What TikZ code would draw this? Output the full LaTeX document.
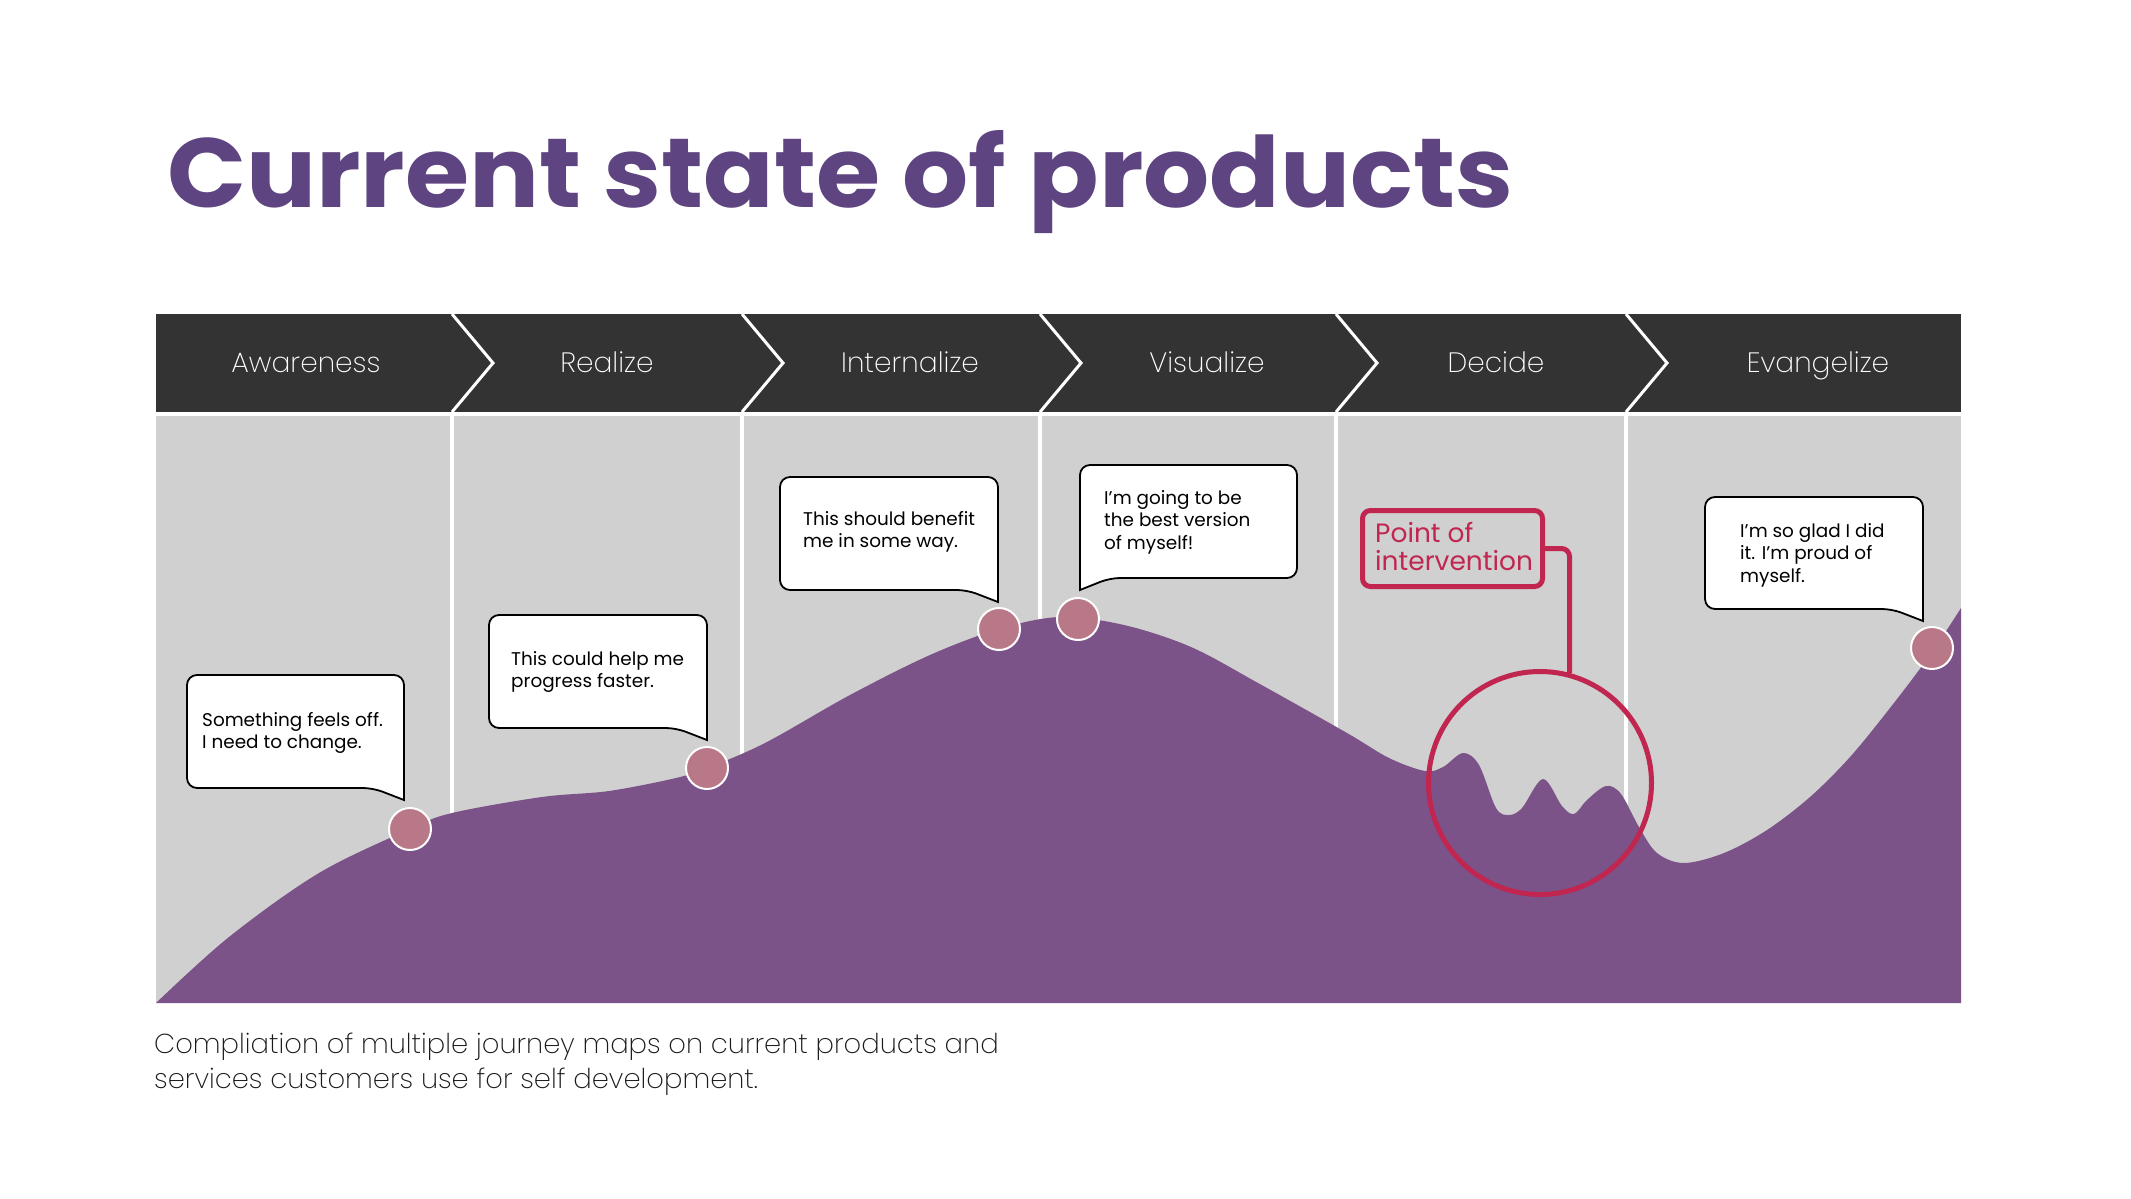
\documentclass[tikz,border=0pt]{standalone}
\usepackage{fontspec}
\usepackage{graphicx}
\setmainfont{Poppins}
\IfFontExistsTF{Poppins ExtraLight}{\newfontfamily\lightfont{Poppins ExtraLight}}{%
  \IfFontExistsTF{Poppins Light}{\newfontfamily\lightfont{Poppins Light}}{\newfontfamily\lightfont{Poppins}}}
\definecolor{hdr}{HTML}{333333}
\definecolor{panel}{HTML}{D0D0D0}
\definecolor{purp}{HTML}{7B5389}
\definecolor{titlec}{HTML}{5E4480}
\definecolor{dotc}{HTML}{B97888}
\definecolor{redc}{HTML}{C0264F}
\definecolor{capc}{HTML}{1A1A1A}
\tikzset{
  sepline/.style={white, line width=3pt},
  colline/.style={white, line width=4pt},
  bubble/.style={draw=black, fill=white, line width=1.8pt},
  bubtext/.style={anchor=base west, inner sep=0pt, font=\fontsize{18.4}{22.5}\selectfont},
  hlabel/.style={anchor=base, inner sep=0pt, text=white, font=\lightfont\fontsize{28}{30}\selectfont},
  jdot/.style={circle, minimum size=42pt, inner sep=0pt, fill=dotc, draw=white, line width=2pt},
}
\newcommand\bubR[4]{\draw[bubble] (#3,#4+12) [rounded corners=10pt] -- (#3,#2) -- (#1,#2) -- (#1,#4) -- (#3-31,#4) [sharp corners] -- cycle;}
\newcommand\bubL[4]{\draw[bubble] (#1,#4+12) [rounded corners=10pt] -- (#1,#2) -- (#3,#2) -- (#3,#4) -- (#1+30,#4) [sharp corners] -- cycle;}
\begin{document}
\begin{tikzpicture}[x=1pt, y=-1pt]
\useasboundingbox[fill=white] (0,0) rectangle (2131,1199);
% title
\node[anchor=base west, inner sep=0pt, text=titlec] (title) at (167,207)
  {\resizebox{1346pt}{77pt}{\bfseries Current state of products}};
% header band
\fill[hdr] (156,314) rectangle (1961,412);
\fill[panel] (156,416) rectangle (1961,1003);
\foreach \sx in {452,742,1040,1336,1626}{
  \draw[sepline] (\sx,314) -- (\sx+41,363) -- (\sx,412);
  \draw[colline] (\sx,412) -- (\sx,1003);
}
\node[hlabel] (h1) at (306,372) {Awareness};
\node[hlabel] (h2) at (607,372) {Realize};
\node[hlabel] (h3) at (910,372) {Internalize};
\node[hlabel] (h4) at (1207,372) {Visualize};
\node[hlabel] (h5) at (1496,372) {Decide};
\node[hlabel] (h6) at (1818,372) {Evangelize};
% journey curve
\fill[purp] plot[smooth, tension=0.55] coordinates {
 (156,1003) (229,937) (319,873) (410,829) (452,813) (542,797) (609,791)
 (676,778) (707,768) (765,743) (850,695) (930,655) (999,629) (1060,617)
 (1124,625) (1191,647) (1258,683) (1347,733) (1389,758) (1425,771)
 (1443,767) (1463,753) (1479,765) (1496,808) (1509,815) (1522,808)
 (1543,779) (1562,806) (1574,814) (1587,800) (1606,786) (1621,794)
 (1639,827) (1657,853) (1684,863) (1724,853) (1767,830) (1810,797)
 (1850,757) (1890,708) (1930,655) (1961,608)}
 -- (1961,1003) -- cycle;
% callouts
\bubR{187}{675}{404}{788}
\node[bubtext] (t1) at (202,726) {\begin{tabular}[t]{@{}l@{}}Something feels off.\\I need to change.\end{tabular}};
\bubR{489}{615}{707}{728}
\node[bubtext] (t2) at (511,665) {\begin{tabular}[t]{@{}l@{}}This could help me\\progress faster.\end{tabular}};
\bubR{780}{477}{998}{590}
\node[bubtext] (t3) at (803,525) {\begin{tabular}[t]{@{}l@{}}This should benefit\\me in some way.\end{tabular}};
\bubL{1080}{465}{1297}{578}
\node[bubtext] (t4) at (1104,504) {\begin{tabular}[t]{@{}l@{}}I’m going to be\\the best version\\of myself!\end{tabular}};
\bubR{1705}{497}{1923}{609}
\node[bubtext] (t6) at (1740,537) {\begin{tabular}[t]{@{}l@{}}I’m so glad I did\\it. I’m proud of\\myself.\end{tabular}};
% dots
\node[jdot] (d1) at (410,829) {};
\node[jdot] (d2) at (707,768) {};
\node[jdot] (d3) at (999,629) {};
\node[jdot] (d4) at (1078,619) {};
\node[jdot] (d5) at (1932,648) {};
% point of intervention
\node[circle, draw=redc, line width=5pt, minimum size=223pt, inner sep=0pt] (circ) at (1540,783) {};
\node[draw=redc, line width=5pt, rounded corners=8pt, minimum width=180pt, minimum height=76pt, inner sep=0pt] (poi) at (1452.5,548.5) {};
\node[anchor=base west, inner sep=0pt, text=redc, font=\fontsize{26.5}{27}\selectfont] (poitext) at (1375,542) {\begin{tabular}[t]{@{}l@{}}Point of\\intervention\end{tabular}};
\draw[redc, line width=5pt, rounded corners=8pt] (poi.east) -| (circ.75.3);
% caption
\node[anchor=base west, inner sep=0pt, text=capc, font=\lightfont\fontsize{27.4}{35}\selectfont] (cap) at (154,1053) {\begin{tabular}[t]{@{}l@{}}Compliation of multiple journey maps on current products and\\services customers use for self development.\end{tabular}};
\end{tikzpicture}
\end{document}
